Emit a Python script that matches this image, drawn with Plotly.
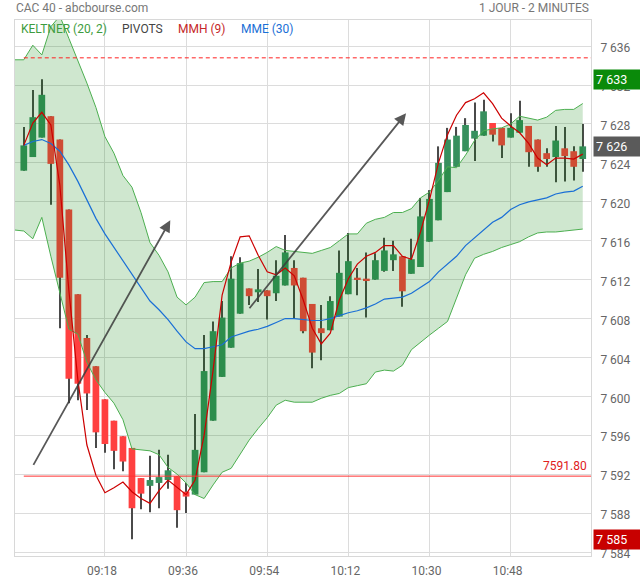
import plotly.graph_objects as go
import pandas as pd

# ---------------- data ----------------
session_date = "2024-01-02"
start_time = "09:00"
bar_minutes = 2

opens = [7623.2, 7624.6, 7626.6, 7628.8, 7626.4, 7619.2, 7610.5, 7606.0, 7603.1, 7599.7,
         7597.5, 7595.9, 7594.7, 7591.6, 7590.8, 7591.1, 7591.4, 7591.8, 7590.2, 7589.9,
         7592.2, 7597.5, 7602.0, 7605.0, 7608.5, 7611.1, 7610.7, 7610.9, 7610.6, 7611.4,
         7613.2, 7612.2, 7609.5, 7607.0, 7606.8, 7608.2, 7610.5, 7612.2, 7612.1, 7612.0,
         7612.9, 7614.0, 7614.4, 7612.6, 7613.3, 7615.9, 7618.1, 7621.0, 7623.6, 7625.2,
         7626.5, 7626.8, 7628.1, 7627.6, 7626.6, 7627.1, 7627.8, 7626.4, 7625.0, 7624.6,
         7625.5, 7625.2, 7624.4]
highs = [7627.7, 7631.5, 7632.6, 7628.8, 7626.4, 7619.2, 7610.5, 7606.3, 7603.1, 7599.7,
         7597.5, 7595.9, 7594.7, 7591.6, 7593.9, 7594.5, 7594.0, 7591.8, 7591.1, 7598.2,
         7606.3, 7607.7, 7609.8, 7614.4, 7614.3, 7611.1, 7613.1, 7610.9, 7614.0, 7616.6,
         7614.0, 7612.2, 7609.5, 7609.4, 7610.3, 7615.0, 7616.8, 7613.2, 7614.8, 7614.7,
         7616.3, 7616.0, 7614.4, 7616.2, 7620.4, 7621.2, 7625.7, 7627.6, 7627.7, 7628.6,
         7630.2, 7630.5, 7628.1, 7627.6, 7629.1, 7630.4, 7627.8, 7626.4, 7625.5, 7627.8,
         7627.7, 7625.7, 7628.0]
lows = [7623.2, 7624.6, 7626.6, 7619.7, 7607.0, 7599.3, 7599.6, 7598.6, 7594.7, 7594.2,
        7592.5, 7592.3, 7585.3, 7588.4, 7588.1, 7588.5, 7590.5, 7586.5, 7588.0, 7589.9,
        7592.2, 7597.5, 7602.0, 7605.0, 7608.5, 7609.4, 7609.7, 7607.9, 7609.8, 7611.4,
        7608.0, 7606.5, 7602.9, 7603.7, 7606.8, 7608.2, 7610.5, 7610.4, 7608.1, 7612.0,
        7612.8, 7612.9, 7609.2, 7612.6, 7613.3, 7615.9, 7618.1, 7621.0, 7623.6, 7625.2,
        7624.2, 7626.8, 7626.2, 7624.5, 7626.6, 7627.1, 7623.6, 7623.1, 7623.6, 7622.0,
        7622.1, 7622.2, 7623.1]
closes = [7625.8, 7628.7, 7631.0, 7623.9, 7612.2, 7601.8, 7601.3, 7600.3, 7596.3, 7595.1,
          7594.4, 7593.3, 7588.5, 7590.0, 7591.4, 7591.7, 7592.4, 7588.3, 7589.7, 7594.5,
          7602.6, 7606.7, 7608.1, 7612.1, 7613.7, 7610.3, 7611.0, 7610.3, 7612.4, 7614.8,
          7611.4, 7606.7, 7604.5, 7606.5, 7609.8, 7612.7, 7613.9, 7612.0, 7611.9, 7614.0,
          7615.0, 7614.6, 7610.8, 7614.1, 7618.5, 7620.3, 7624.0, 7626.4, 7626.8, 7627.9,
          7627.3, 7629.3, 7626.9, 7625.8, 7627.6, 7628.4, 7625.1, 7623.6, 7624.4, 7626.3,
          7624.7, 7623.6, 7625.7]

# Keltner band starts one bar before the first candle
keltner_upper = [7634.6, 7634.6, 7636.1, 7635.1, 7638.0, 7639.1, 7636.8, 7634.6, 7632.2, 7629.7,
                 7626.7, 7625.0, 7622.7, 7621.5, 7618.9, 7615.8, 7614.5, 7612.8, 7610.2, 7609.4,
                 7610.2, 7611.7, 7611.8, 7611.8, 7613.2, 7613.7, 7613.9, 7614.3, 7614.8, 7615.4,
                 7615.0, 7614.9, 7614.8, 7614.7, 7615.0, 7615.3, 7616.0, 7616.7, 7616.7, 7617.8,
                 7618.2, 7618.4, 7618.9, 7618.9, 7619.3, 7620.4, 7621.0, 7622.2, 7623.6, 7623.5,
                 7624.8, 7626.3, 7627.3, 7627.5, 7627.6, 7628.0, 7628.8, 7628.6, 7628.4, 7628.7,
                 7629.4, 7629.5, 7629.5, 7630.1]
keltner_lower = [7617.1, 7617.0, 7616.2, 7618.4, 7614.4, 7610.6, 7606.9, 7606.4, 7603.5, 7601.7,
                 7600.4, 7599.3, 7597.6, 7594.6, 7594.5, 7594.4, 7594.0, 7592.7, 7592.0, 7591.1,
                 7589.9, 7589.5, 7590.9, 7592.2, 7592.6, 7594.0, 7595.5, 7596.7, 7597.8, 7599.1,
                 7599.6, 7599.4, 7599.4, 7599.4, 7599.8, 7600.1, 7600.3, 7600.9, 7601.1, 7601.3,
                 7602.5, 7602.7, 7602.6, 7603.2, 7604.8, 7605.6, 7606.3, 7607.0, 7607.7, 7610.1,
                 7612.5, 7614.2, 7614.6, 7614.9, 7615.3, 7615.6, 7615.9, 7616.4, 7616.8, 7616.9,
                 7616.9, 7617.0, 7617.1, 7617.2]
mme30 = [7625.8, 7626.2, 7626.4, 7626.0, 7625.2, 7623.8, 7622.1, 7620.2, 7618.3, 7616.7,
         7615.3, 7613.9, 7612.5, 7611.1, 7609.8, 7608.9, 7607.9, 7606.7, 7605.6, 7604.9,
         7604.9, 7605.1, 7605.3, 7606.1, 7606.4, 7606.7, 7606.9, 7607.2, 7607.6, 7608.0,
         7608.0, 7607.9, 7607.8, 7607.8, 7608.0, 7608.3, 7608.6, 7608.8, 7609.1, 7609.5,
         7610.0, 7610.1, 7610.2, 7610.6, 7611.2, 7611.8, 7612.8, 7613.6, 7614.4, 7615.5,
         7616.3, 7617.1, 7617.9, 7618.4, 7619.2, 7619.7, 7620.0, 7620.2, 7620.4, 7620.8,
         7621.0, 7621.1, 7621.6]
mmh9 = [7625.8, 7628.1, 7629.2, 7627.9, 7621.7, 7610.9, 7601.7, 7595.0, 7591.9, 7590.1,
        7590.6, 7591.2, 7590.2, 7589.5, 7589.0, 7590.3, 7591.4, 7590.6, 7589.9, 7591.4,
        7596.0, 7602.7, 7610.4, 7613.8, 7616.4, 7616.5, 7614.5, 7612.8, 7612.5, 7613.2,
        7612.4, 7609.9, 7607.0, 7605.4, 7606.5, 7609.9, 7612.1, 7613.6, 7614.4, 7614.8,
        7615.5, 7615.5, 7614.4, 7614.1, 7616.9, 7620.2, 7624.0, 7626.9, 7628.9, 7630.2,
        7630.6, 7631.2, 7630.1, 7628.6, 7627.8, 7627.1, 7626.0, 7624.5, 7623.8, 7624.5,
        7624.5, 7624.4, 7624.9]

pivot_level = 7634.8
support_level = 7591.80
y_tick_values = list(range(7584, 7637, 4))
x_tick_labels = ["09:18", "09:36", "09:54", "10:12", "10:30", "10:48"]
# hand-drawn trend arrows: (start time, start price, end time, end price)
trend_arrows = [("09:01:57", 7592.8, "09:32:30", 7618.1),
                ("09:49:48", 7608.9, "10:24:48", 7629.1)]

# ---------------- build ----------------
t0 = pd.Timestamp(f"{session_date} {start_time}")
step = pd.Timedelta(minutes=bar_minutes)
times = [t0 + step * i for i in range(len(opens))]
band_times = [t0 + step * (i - 1) for i in range(len(keltner_upper))]

UP = "#37905e"
DOWN = "#ff4040"
body_colors = [UP if c >= o else DOWN for o, c in zip(opens, closes)]
body_base = [min(o, c) for o, c in zip(opens, closes)]
body_h = [max(abs(c - o), 0.15) for o, c in zip(opens, closes)]

ms_per_px = bar_minutes * 60000 / 9.011

fig = go.Figure()
# wicks
fig.add_trace(go.Bar(x=times, base=lows, y=[h - l for h, l in zip(highs, lows)],
                     width=ms_per_px * 1.1, marker=dict(color="#4a4a4a", line=dict(width=0)),
                     hoverinfo="skip", showlegend=False))
# bodies
fig.add_trace(go.Bar(x=times, base=body_base, y=body_h, width=ms_per_px * 6.7,
                     marker=dict(color=body_colors, line=dict(width=0)),
                     hoverinfo="skip", showlegend=False))
# Keltner band (drawn over the candles, translucent)
fig.add_trace(go.Scatter(x=band_times, y=keltner_upper, mode="lines",
                         line=dict(color="#4caf50", width=1), showlegend=False, hoverinfo="skip"))
fig.add_trace(go.Scatter(x=band_times, y=keltner_lower, mode="lines", fill="tonexty",
                         fillcolor="rgba(0,128,0,0.19)",
                         line=dict(color="#4caf50", width=1), showlegend=False, hoverinfo="skip"))
fig.add_trace(go.Scatter(x=times, y=mme30, mode="lines",
                         line=dict(color="#1a6fd6", width=1.2), showlegend=False, hoverinfo="skip"))
fig.add_trace(go.Scatter(x=times, y=mmh9, mode="lines",
                         line=dict(color="#cc0000", width=1.2), showlegend=False, hoverinfo="skip"))

x_start = pd.Timestamp(f"{session_date} 08:58:03")
x_end = pd.Timestamp(f"{session_date} 11:05:50")

fig.add_shape(type="line", xref="x", yref="y", x0=times[0], x1=x_end, y0=pivot_level, y1=pivot_level,
              line=dict(color="#ff2020", width=1, dash="4px,3px"))
fig.add_shape(type="line", xref="x", yref="y", x0=times[0], x1=x_end, y0=support_level, y1=support_level,
              line=dict(color="#ff3030", width=1))

FONT = "Roboto"
ann = []
ann.append(dict(xref="paper", yref="y", x=1, y=support_level, xanchor="right", yanchor="bottom",
                xshift=-2, yshift=1, text=f"{support_level:.2f}", showarrow=False,
                font=dict(family=FONT, size=12, color="#e02020")))

def fmt(v):
    return f"{int(round(v)):,}".replace(",", " ")

for val, bg in [(max(highs), "#0a8a0a"), (closes[-1], "#5a5a5a"), (min(lows), "#c80000")]:
    ann.append(dict(xref="paper", yref="y", x=1, y=val, xanchor="left", yanchor="middle",
                    xshift=2, text=fmt(val), showarrow=False, bgcolor=bg, width=43,
                    align="left", borderpad=2,
                    font=dict(family=FONT, size=12.5, color="white")))

for xs, ys, xe, ye in trend_arrows:
    ann.append(dict(xref="x", yref="y", axref="x", ayref="y",
                    x=f"{session_date} {xe}", y=ye, ax=f"{session_date} {xs}", ay=ys,
                    showarrow=True, arrowhead=2, arrowsize=1.3, arrowwidth=1.8,
                    arrowcolor="rgba(60,60,60,0.85)", text=""))

ann.append(dict(xref="paper", yref="paper", x=0, y=1, xanchor="left", yanchor="middle",
                xshift=-1, yshift=12, text="CAC 40 - abcbourse.com", showarrow=False,
                font=dict(family=FONT, size=12, color="#777777")))
ann.append(dict(xref="paper", yref="paper", x=1, y=1, xanchor="right", yanchor="middle",
                xshift=0, yshift=12, text="1 JOUR - 2 MINUTES", showarrow=False,
                font=dict(family=FONT, size=12, color="#777777")))
for txt, px, col in [("KELTNER (20, 2)", 19, "#3d9c40"), ("PIVOTS", 120, "#444444"),
                     ("MMH (9)", 176, "#c62828"), ("MME (30)", 239, "#1a6fd6")]:
    ann.append(dict(xref="paper", yref="paper", x=0, y=1, xanchor="left", yanchor="middle",
                    xshift=px - 15, yshift=-9, text=txt, showarrow=False,
                    font=dict(family=FONT, size=12, color=col)))

fig.update_layout(
    width=640, height=580,
    margin=dict(l=15, r=49, t=20, b=24, pad=0, autoexpand=False),
    paper_bgcolor="white", plot_bgcolor="white",
    barmode="overlay", showlegend=False,
    font=dict(family=FONT, size=12, color="#666666"),
    annotations=ann,
    xaxis=dict(type="date", range=[x_start, x_end], automargin=False,
               tickvals=[f"{session_date} {t}" for t in x_tick_labels], ticktext=x_tick_labels,
               showgrid=True, gridcolor="#dcdcdc", gridwidth=1, zeroline=False,
               showline=True, linecolor="#d8d8d8", mirror=True, ticks="",
               ticklabelstandoff=4, ticklabelshift=-3,
               tickfont=dict(family=FONT, size=12, color="#666666"), rangeslider=dict(visible=False)),
    yaxis=dict(side="right", range=[7583.59, 7638.69], tickvals=y_tick_values, automargin=False,
               ticktext=[fmt(v) for v in y_tick_values],
               showgrid=True, gridcolor="#dcdcdc", gridwidth=1, zeroline=False,
               showline=True, linecolor="#d8d8d8", mirror=True, ticks="",
               ticklabelstandoff=6, ticklabelshift=2,
               tickfont=dict(family=FONT, size=12, color="#666666")),
)

fig.write_html("out.html", config={"displayModeBar": False},
               post_script="document.body.style.margin='0';document.body.style.padding='0';")
